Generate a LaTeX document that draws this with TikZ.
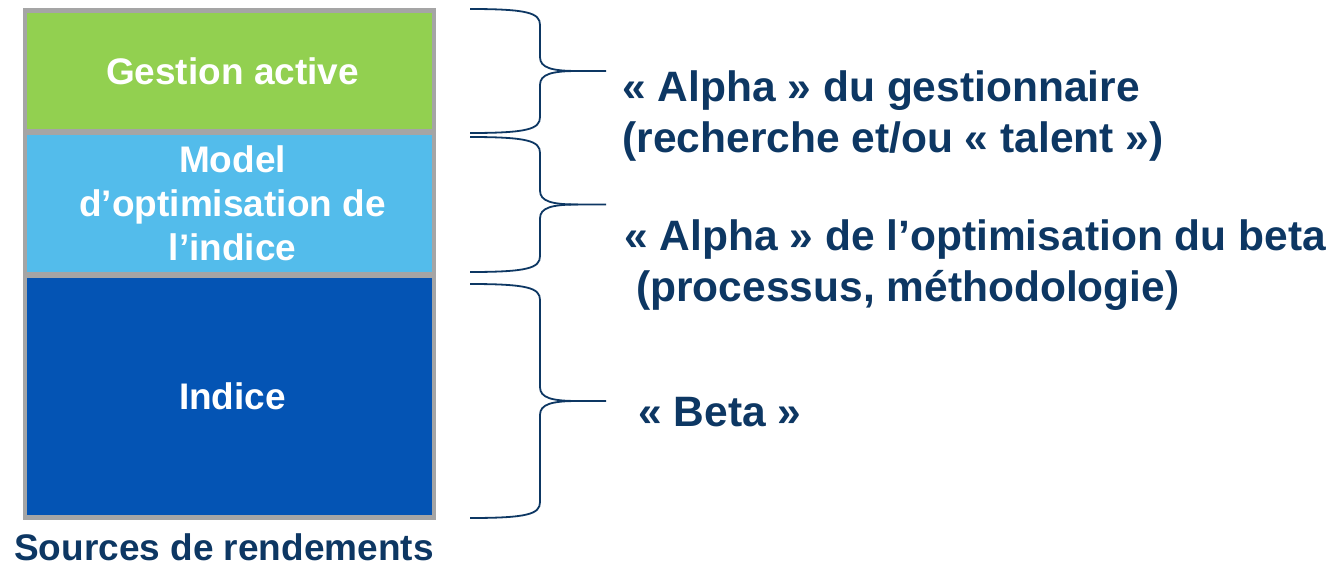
\documentclass[tikz,border=0pt]{standalone}
\usepackage{fontspec}
\setmainfont{Liberation Sans}
\usepackage{xcolor}
\usepackage{tikz}

\definecolor{activegreen}{HTML}{92D050}
\definecolor{optblue}{HTML}{53BCEB}
\definecolor{indexblue}{HTML}{0454B4}
\definecolor{framegrey}{HTML}{A5A5A5}
\definecolor{navy}{HTML}{0D3763}

% curly bracket from y=#1 down to y=#2, tip at the middle
\newcommand{\bracedraw}[2]{%
  \draw[navy, line width=1.8pt]
    (470,#1) .. controls (528,#1) and (540,#1+4) .. (540,#1+16)
    -- (540,{(#1+#2)/2-14}) .. controls (540,{(#1+#2)/2-3}) and (552,{(#1+#2)/2}) .. (578,{(#1+#2)/2})
    -- (606,{(#1+#2)/2});
  \draw[navy, line width=1.8pt]
    (470,#2) .. controls (528,#2) and (540,#2-4) .. (540,#2-16)
    -- (540,{(#1+#2)/2+14}) .. controls (540,{(#1+#2)/2+3}) and (552,{(#1+#2)/2}) .. (578,{(#1+#2)/2});
}

\begin{document}
\begin{tikzpicture}[x=1pt, y=-1pt,
    layer/.style={inner sep=0pt, minimum width=405pt, text=white, align=center,
      font=\bfseries\fontsize{37}{44}\selectfont},
    source/.style={anchor=west, align=left, text=navy,
      font=\bfseries\fontsize{42.5}{51}\selectfont}]
  \useasboundingbox (0,0) rectangle (1334,562);

  % stack of return sources
  \fill[framegrey] (23,8) rectangle (436,520);
  \node (active) at (229.5,71) [layer, fill=activegreen, minimum height=116pt] {\hspace*{6pt}Gestion active};
  \node (model) at (229.5,203.5) [layer, fill=optblue, minimum height=137pt] {\hspace*{6pt}Model\\\hspace*{6pt}d’optimisation de\\\hspace*{6pt}l’indice};
  \node (index) at (229.5,396.5) [layer, fill=indexblue, minimum height=237pt] {\hspace*{6pt}Indice};
  \node (caption) at (224,547) [inner sep=0pt, text=navy, font=\bfseries\fontsize{37}{44}\selectfont] {Sources de rendements};

  % brackets
  \bracedraw{9}{133}
  \bracedraw{137}{272}
  \bracedraw{284}{518}

  % labels
  \node (alpha1) at (619,116) [source] {« Alpha » du gestionnaire\\(recherche et/ou « talent »)};
  \node (alpha2) at (621,265) [source] {« Alpha » de l’optimisation du beta\\~(processus, méthodologie)};
  \node (beta) at (635,412) [source] {« Beta »};
\end{tikzpicture}
\end{document}
